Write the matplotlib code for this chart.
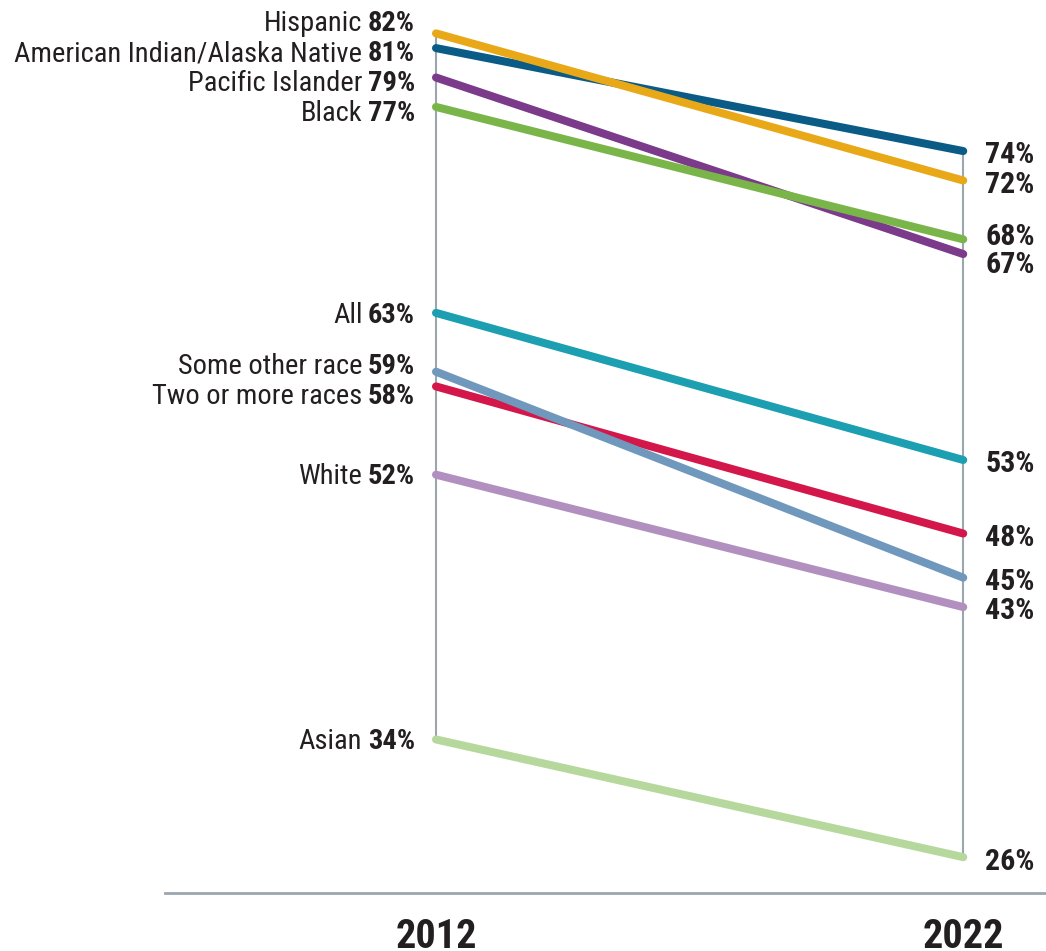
import numpy as np
import matplotlib.pyplot as plt
from matplotlib import font_manager as fm

years = [2012, 2022]
groups = [
    'Hispanic',
    'American Indian/Alaska Native',
    'Pacific Islander',
    'Black',
    'All',
    'Some other race',
    'Two or more races',
    'White',
    'Asian',
]
share_2012 = [82, 81, 79, 77, 63, 59, 58, 52, 34]
share_2022 = [72, 74, 67, 68, 53, 45, 48, 43, 26]
colors = ['#E8A817', '#0A5C86', '#7C3A8B', '#7AB54A', '#1B9FB1',
          '#6F98BC', '#D4174A', '#B190C0', '#B6D89C']
# drawing order (last is on top)
z_order = [1, 0, 2, 3, 4, 6, 5, 7, 8]

GRAY = '#9CA6AE'
TXT = '#231F20'


def is_narrow(f):
    st = f.stretch
    if isinstance(st, str):
        if 'condensed' in st.lower():
            return True
    elif isinstance(st, (int, float)) and st < 500:
        return True
    return 'Narrow' in f.name or 'Condensed' in f.name


def weight_num(w):
    if isinstance(w, str):
        return {'bold': 700, 'heavy': 800, 'black': 900, 'semibold': 600,
                'demibold': 600, 'medium': 500, 'light': 300}.get(w.lower(), 400)
    return w


def pick_fonts():
    # find a condensed sans with both regular and bold faces
    prefs = ['Liberation Sans Narrow', 'Roboto Condensed', 'Noto Sans',
             'Open Sans', 'DejaVu Sans', 'Arial Narrow']
    narrow = [f for f in fm.fontManager.ttflist
              if is_narrow(f) and f.style == 'normal']
    for p in prefs + sorted({f.name for f in narrow}):
        fam = [f for f in narrow if f.name == p]
        reg = [f for f in fam if weight_num(f.weight) == 400]
        bld = [f for f in fam if weight_num(f.weight) == 700]
        if reg and bld:
            return (fm.FontProperties(fname=reg[0].fname),
                    fm.FontProperties(fname=bld[0].fname), 1.0)
    return (fm.FontProperties(family='DejaVu Sans'),
            fm.FontProperties(family='DejaVu Sans', weight='bold'), 0.8)


f_reg, f_bold, scale = pick_fonts()


def spread(vals, gap):
    # push label positions apart so they don't overlap
    order = np.argsort(vals)[::-1]
    pos = np.array(vals, dtype=float)[order]
    for _ in range(200):
        moved = False
        for i in range(len(pos) - 1):
            d = pos[i] - pos[i + 1]
            if d < gap - 1e-6:
                push = (gap - d) / 2
                pos[i] += push
                pos[i + 1] -= push
                moved = True
        if not moved:
            break
    out = np.empty(len(vals))
    out[order] = pos
    return out


fig = plt.figure(figsize=(10.46, 9.51), dpi=100)
ax = fig.add_axes([0, 0, 1, 1])
ax.set_xlim(2003.73, 2023.57)
ax.set_ylim(19.62, 84.27)
ax.axis('off')

# vertical guides at each year
ax.plot([2012, 2012], [min(share_2012), max(share_2012)], color=GRAY, lw=1.5, zorder=1)
ax.plot([2022, 2022], [min(share_2022), max(share_2022)], color=GRAY, lw=1.5, zorder=1)

for k, i in enumerate(z_order):
    ax.plot(years, [share_2012[i], share_2022[i]], color=colors[i], lw=5.8,
            solid_capstyle='round', zorder=2 + k)

# baseline and year labels
ax.plot([2006.86, 2023.57], [23.55, 23.55], color=GRAY, lw=2.0, clip_on=False)
for yr in years:
    ax.text(yr, 19.85, str(yr), ha='center', va='baseline', fontsize=29 * scale,
            fontproperties=f_bold, color=TXT)

left_y = spread(share_2012, 2.04) - 0.15
right_y = spread(share_2022, 1.9) - 0.3

for i, name in enumerate(groups):
    pct = ax.text(2011.6, left_y[i], f'{share_2012[i]}%', ha='right', va='center',
                  fontproperties=f_bold, color=TXT)
    pct.set_fontsize(20.5 * scale)
    nm = ax.annotate(name, xy=(0, 0), xycoords=pct, xytext=(-4, 0),
                     textcoords='offset points', ha='right', va='bottom',
                     fontproperties=f_reg, color=TXT)
    nm.set_fontsize(20.5 * scale)
    rt = ax.text(2022.42, right_y[i], f'{share_2022[i]}%', ha='left', va='center',
                 fontproperties=f_bold, color=TXT)
    rt.set_fontsize(21.5 * scale)

fig.savefig('out.png', dpi=100)
